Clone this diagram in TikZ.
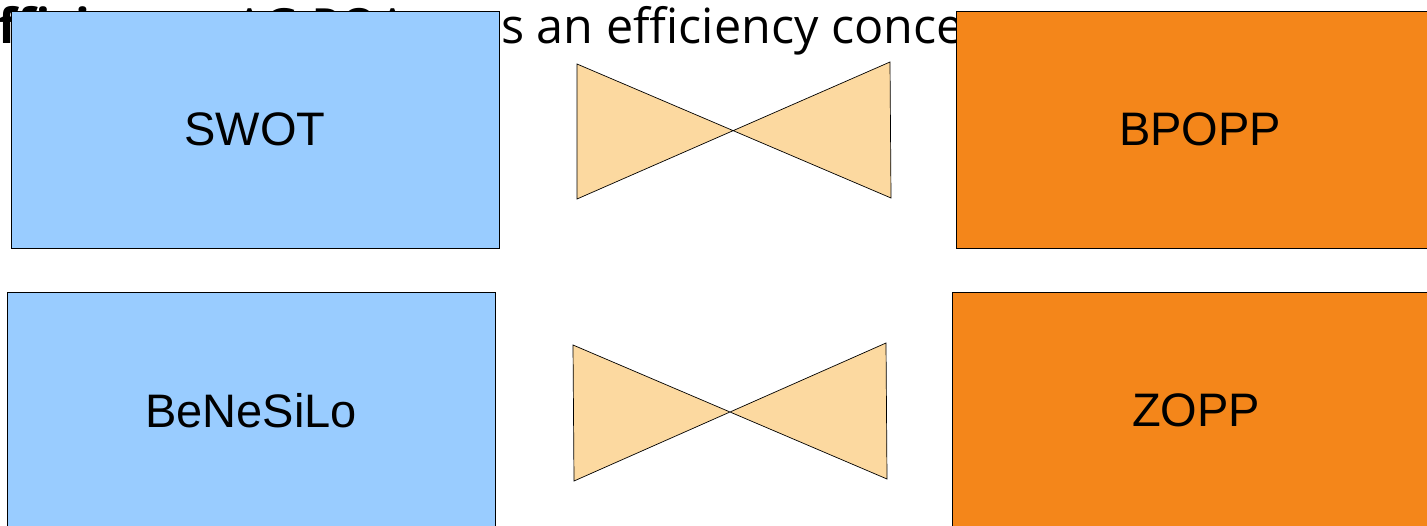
\documentclass[tikz,border=0pt]{standalone}
\usepackage{fontspec}
\setmainfont{Liberation Sans}
\newfontfamily\bgfont{Open Sans}
\definecolor{boxblue}{HTML}{99CCFF}
\definecolor{boxorange}{HTML}{F4861A}
\definecolor{bowfill}{HTML}{FCD9A0}
\tikzset{
  card/.style={draw=black, line width=0.8pt, minimum width=488pt, minimum height=237pt, inner sep=0pt,
    font=\fontsize{47}{56}\selectfont},
  bluecard/.style={card, fill=boxblue},
  orangecard/.style={card, fill=boxorange},
  bowtie/.style={draw=black, line width=0.7pt, fill=bowfill, line join=miter},
}
\begin{document}
\begin{tikzpicture}[x=1pt,y=-1pt]
\useasboundingbox (0,0) rectangle (1427,526);
\clip (0,0) rectangle (1427,526);
\fill[white] (0,0) rectangle (1427,526);
% partly hidden heading
\node[anchor=base west, inner sep=0pt, font=\bgfont\fontsize{48.5}{58}\selectfont] (heading) at (501,44)
  {\llap{\textbf{Efficiency:} AG POA use}s an efficiency concept};
% boxes
\node[bluecard] (swot) at (255,129.5) {SWOT};
\node[orangecard] (bpopp) at (1200,129.5) {BPOPP};
\node[bluecard] (benesilo) at (251,410.5) {BeNeSiLo};
\node[orangecard] (zopp) at (1196,410.5) {ZOPP};
% bow ties
\coordinate (b1a) at (577,64);
\coordinate (b1b) at (891,198);
\coordinate (b1c) at (890,62);
\coordinate (b1d) at (577,199);
\draw[bowtie] (b1a) -- (b1b) -- (b1c) -- (b1d) -- cycle;
\coordinate (b2a) at (573,345);
\coordinate (b2b) at (887,479);
\coordinate (b2c) at (886,343);
\coordinate (b2d) at (574,481);
\draw[bowtie] (b2a) -- (b2b) -- (b2c) -- (b2d) -- cycle;
\end{tikzpicture}
\end{document}
